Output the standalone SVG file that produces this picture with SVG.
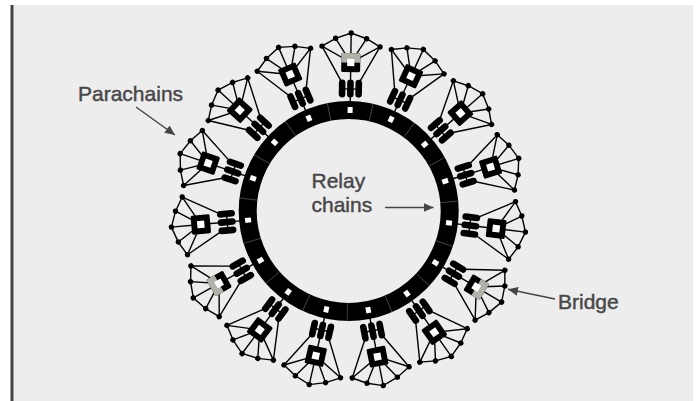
<svg xmlns="http://www.w3.org/2000/svg" xmlns:xlink="http://www.w3.org/1999/xlink" width="698" height="401" viewBox="0 0 698 401">
<style>
.edge{stroke:#000;stroke-width:1.4;fill:none;stroke-linecap:round}
.pill{fill:#000}
.dot{fill:#000}
.lbl{font-family:"Liberation Sans",Arial,sans-serif;font-size:21px;fill:#484848;stroke:#484848;stroke-width:0.45}
.arrow{stroke:#444;stroke-width:1.4;fill:none}
.sep{stroke:#5a5a5a;stroke-width:0.7}
</style>
<defs>
<marker id="head" markerUnits="userSpaceOnUse" markerWidth="11" markerHeight="10" refX="10" refY="4.5" orient="auto">
<path d="M0,0 L10,4.5 L0,9 z" fill="#444"/>
</marker>
<g id="fan">
<path class="edge" d="M0,-148.5 L-29,-164.5 M0,-148.5 L-15.5,-172.5 M0,-148.5 L0,-178 M0,-148.5 L15.5,-172.5 M0,-148.5 L29,-164.5"/>
<path class="edge" d="M-29,-164.5 L-15.5,-172.5 L0,-178 L15.5,-172.5 L29,-164.5"/>
<path class="edge" d="M-29,-164.5 L-9,-129 M29,-164.5 L9,-129"/>
<path class="edge" d="M0,-109 L0,-141 M-8.3,-122 L8.3,-122"/>
<rect class="pill" x="-11.6" y="-131.5" width="6.6" height="18" rx="3.3"/>
<rect class="pill" x="-3.3" y="-131.5" width="6.6" height="18" rx="3.3"/>
<rect class="pill" x="5" y="-131.5" width="6.6" height="18" rx="3.3"/>
<circle class="dot" cx="-29" cy="-164.5" r="2.7"/>
<circle class="dot" cx="-15.5" cy="-172.5" r="2.7"/>
<circle class="dot" cx="0" cy="-178" r="2.7"/>
<circle class="dot" cx="15.5" cy="-172.5" r="2.7"/>
<circle class="dot" cx="29" cy="-164.5" r="2.7"/>
</g>
<g id="para">
<use xlink:href="#fan" href="#fan"/>
<rect x="-9.5" y="-158" width="19" height="19" rx="1.5" fill="#000"/>
<rect x="-3.6" y="-152.1" width="7.2" height="7.2" fill="#fff"/>
</g>
<g id="bridge">
<use xlink:href="#fan" href="#fan"/>
<rect x="-9.5" y="-158" width="19" height="19" rx="1.5" fill="#000"/>
<path d="M-9.5,-148.5 L-9.5,-156.5 Q-9.5,-158 -8,-158 L8,-158 Q9.5,-158 9.5,-156.5 L9.5,-148.5 z" fill="#b1b1a9"/>
<rect x="-3.6" y="-152.1" width="7.2" height="7.2" fill="#fff"/>
</g>
<rect id="slot" x="-2.5" y="-104" width="5" height="6" fill="#fff"/>
<line id="sep" class="sep" x1="0" y1="-92" x2="0" y2="-110"/>
</defs>
<rect x="13.5" y="5" width="679.8" height="396" fill="#ededed"/>
<rect x="10.5" y="5" width="3" height="396" fill="#444"/>

<g id="connectors">
<line class="arrow" x1="136" y1="107" x2="175" y2="135" marker-end="url(#head)"/>
<line class="arrow" x1="385" y1="207.5" x2="433.5" y2="207.5" marker-end="url(#head)"/>
<line class="arrow" x1="555" y1="299" x2="508" y2="289.3" marker-end="url(#head)"/>
</g>

<g id="relay-ring">
<circle cx="348.7" cy="211" r="101" fill="none" stroke="#000" stroke-width="18"/>
<g transform="translate(348.7 211)">
<use href="#sep" transform="rotate(12.8)"/><use href="#sep" transform="rotate(36.8)"/><use href="#sep" transform="rotate(60.8)"/><use href="#sep" transform="rotate(84.8)"/><use href="#sep" transform="rotate(108.8)"/><use href="#sep" transform="rotate(132.8)"/><use href="#sep" transform="rotate(156.8)"/><use href="#sep" transform="rotate(180.8)"/><use href="#sep" transform="rotate(204.8)"/><use href="#sep" transform="rotate(228.8)"/><use href="#sep" transform="rotate(252.8)"/><use href="#sep" transform="rotate(276.8)"/><use href="#sep" transform="rotate(300.8)"/><use href="#sep" transform="rotate(324.8)"/><use href="#sep" transform="rotate(348.8)"/>
<use href="#slot" transform="rotate(0.8)"/><use href="#slot" transform="rotate(24.8)"/><use href="#slot" transform="rotate(48.8)"/><use href="#slot" transform="rotate(72.8)"/><use href="#slot" transform="rotate(96.8)"/><use href="#slot" transform="rotate(120.8)"/><use href="#slot" transform="rotate(144.8)"/><use href="#slot" transform="rotate(168.8)"/><use href="#slot" transform="rotate(192.8)"/><use href="#slot" transform="rotate(216.8)"/><use href="#slot" transform="rotate(240.8)"/><use href="#slot" transform="rotate(264.8)"/><use href="#slot" transform="rotate(288.8)"/><use href="#slot" transform="rotate(312.8)"/><use href="#slot" transform="rotate(336.8)"/>
</g>
</g>

<g id="parachain-0"><use href="#bridge" transform="translate(348.7 211) rotate(0.8)"/></g>
<g id="parachain-1"><use href="#para" transform="translate(348.7 211) rotate(24.8)"/></g>
<g id="parachain-2"><use href="#para" transform="translate(348.7 211) rotate(48.8)"/></g>
<g id="parachain-3"><use href="#para" transform="translate(348.7 211) rotate(72.8)"/></g>
<g id="parachain-4"><use href="#para" transform="translate(348.7 211) rotate(96.8)"/></g>
<g id="parachain-5"><use href="#bridge" transform="translate(348.7 211) rotate(120.8)"/></g>
<g id="parachain-6"><use href="#para" transform="translate(348.7 211) rotate(144.8)"/></g>
<g id="parachain-7"><use href="#para" transform="translate(348.7 211) rotate(168.8)"/></g>
<g id="parachain-8"><use href="#para" transform="translate(348.7 211) rotate(192.8)"/></g>
<g id="parachain-9"><use href="#para" transform="translate(348.7 211) rotate(216.8)"/></g>
<g id="parachain-10"><use href="#bridge" transform="translate(348.7 211) rotate(240.8)"/></g>
<g id="parachain-11"><use href="#para" transform="translate(348.7 211) rotate(264.8)"/></g>
<g id="parachain-12"><use href="#para" transform="translate(348.7 211) rotate(288.8)"/></g>
<g id="parachain-13"><use href="#para" transform="translate(348.7 211) rotate(312.8)"/></g>
<g id="parachain-14"><use href="#para" transform="translate(348.7 211) rotate(336.8)"/></g>

<g id="labels">
<text class="lbl" x="78" y="101">Parachains</text>
<text class="lbl" x="311.5" y="187.5">Relay</text>
<text class="lbl" x="311.5" y="212">chains</text>
<text class="lbl" x="558" y="309">Bridge</text>
</g>
</svg>
